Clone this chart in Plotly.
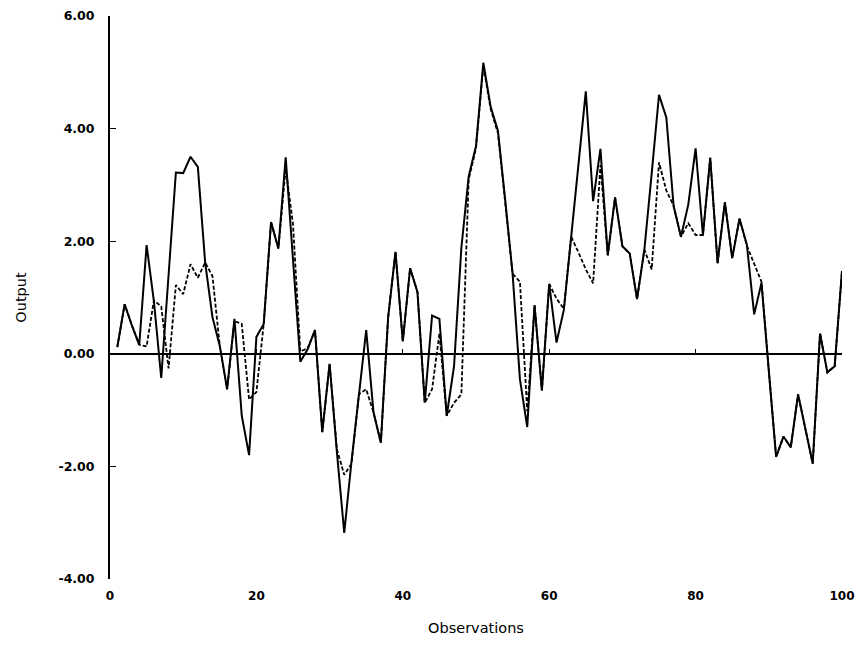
import plotly.graph_objects as go

obs = list(range(1, 101))

actual = [
    0.12, 0.88, 0.50, 0.16, 1.93, 0.93, -0.43, 1.40, 3.22, 3.21,
    3.50, 3.32, 1.62, 0.65, 0.14, -0.63, 0.62, -1.10, -1.80, 0.30,
    0.53, 2.34, 1.87, 3.49, 1.70, -0.14, 0.08, 0.42, -1.39, -0.18,
    -1.75, -3.18, -1.90, -0.76, 0.42, -1.04, -1.58, 0.65, 1.81, 0.22,
    1.52, 1.10, -0.87, 0.68, 0.62, -1.10, -0.22, 1.88, 3.15, 3.69,
    5.17, 4.39, 3.96, 2.72, 1.42, -0.45, -1.30, 0.86, -0.65, 1.24,
    0.20, 0.78, 2.10, 3.35, 4.66, 2.71, 3.64, 1.75, 2.78, 1.91,
    1.78, 0.97, 1.85, 3.20, 4.60, 4.20, 2.62, 2.08, 2.65, 3.65,
    2.11, 3.48, 1.61, 2.69, 1.70, 2.40, 1.94, 0.70, 1.26, -0.30,
    -1.83, -1.47, -1.66, -0.72, -1.35, -1.95, 0.36, -0.33, -0.22, 1.47,
]

fitted = [
    0.12, 0.88, 0.50, 0.16, 0.13, 0.95, 0.84, -0.26, 1.22, 1.06,
    1.59, 1.35, 1.62, 1.38, 0.14, -0.63, 0.58, 0.53, -0.81, -0.68,
    0.53, 2.34, 1.87, 3.30, 2.30, 0.04, 0.10, 0.42, -1.39, -0.18,
    -1.70, -2.15, -1.95, -0.72, -0.63, -1.04, -1.58, 0.65, 1.81, 0.22,
    1.52, 1.10, -0.87, -0.63, 0.36, -1.10, -0.87, -0.72, 3.10, 3.65,
    5.12, 4.35, 3.92, 2.70, 1.42, 1.28, -1.02, 0.86, -0.65, 1.24,
    0.98, 0.80, 2.08, 1.80, 1.50, 1.25, 3.35, 1.75, 2.78, 1.91,
    1.78, 0.97, 1.85, 1.50, 3.40, 2.90, 2.63, 2.08, 2.32, 2.11,
    2.11, 3.48, 1.61, 2.69, 1.70, 2.40, 1.92, 1.60, 1.28, -0.30,
    -1.83, -1.47, -1.66, -0.72, -1.35, -1.95, 0.36, -0.33, -0.22, 1.47,
]

x_ticks = [0, 20, 40, 60, 80, 100]
y_ticks = [-4, -2, 0, 2, 4, 6]

FONT = "DejaVu Sans, sans-serif"

fig = go.Figure()
fig.add_trace(go.Scatter(x=obs, y=fitted, mode="lines",
                         line=dict(color="black", width=1.8, dash="4px,2px"),
                         showlegend=False, hoverinfo="skip"))
fig.add_trace(go.Scatter(x=obs, y=actual, mode="lines",
                         line=dict(color="black", width=2),
                         showlegend=False, hoverinfo="skip"))
# invisible trace to carry the tick axis placed on the zero line
fig.add_trace(go.Scatter(x=[x_ticks[0], x_ticks[-1]], y=[0, 0], xaxis="x2",
                         mode="lines", line=dict(width=0), showlegend=False,
                         hoverinfo="skip"))

fig.update_layout(
    width=863, height=647,
    margin=dict(l=110, r=15, t=8, b=68),
    paper_bgcolor="white", plot_bgcolor="white",
    font=dict(family=FONT, color="black"),
    xaxis=dict(range=[0, 100], tickvals=x_ticks, ticktext=[f"<b>{v}</b>" for v in x_ticks],
               showline=False, showgrid=False, zeroline=False, ticks="",
               tickfont=dict(size=12, family=FONT), ticklabelstandoff=8,
               ticklabeloverflow="allow",
               title=dict(text="Observations", font=dict(size=14.5, family=FONT), standoff=20)),
    xaxis2=dict(range=[0, 100], overlaying="x", anchor="free", position=0.4, side="bottom",
                tickvals=x_ticks, showticklabels=False, ticks="inside", ticklen=5,
                tickwidth=1.2, tickcolor="black", showline=False, showgrid=False,
                zeroline=False),
    yaxis=dict(range=[-4, 6], tickvals=y_ticks,
               ticktext=[f"<b>{v:.2f}</b>" for v in y_ticks],
               showline=True, linecolor="black", linewidth=2, mirror=False,
               ticks="inside", ticklen=6, tickwidth=1.2, tickcolor="black",
               showgrid=False, zeroline=True, zerolinecolor="black", zerolinewidth=1.6,
               tickfont=dict(size=12.5, family=FONT), ticklabelstandoff=11,
               ticklabeloverflow="allow",
               title=dict(text="Output", font=dict(size=14.5, family=FONT), standoff=28)),
)

fig.write_html("out.html")
